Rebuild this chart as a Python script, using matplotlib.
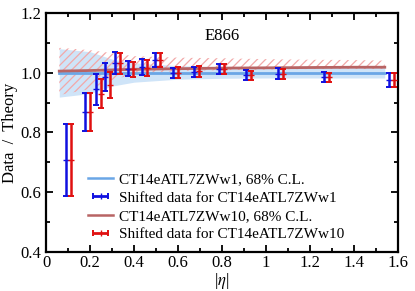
import numpy as np
import matplotlib
matplotlib.use('Agg')
import matplotlib.pyplot as plt
from matplotlib.ticker import MultipleLocator, FormatStrFormatter

plt.rcParams['font.family'] = ['Liberation Serif', 'DejaVu Serif']
plt.rcParams['mathtext.fontset'] = 'stix'

# shifted data points (blue: w1, red: w10)
eta_blue = [0.090, 0.177, 0.227, 0.267, 0.314, 0.374, 0.435, 0.494,
            0.577, 0.674, 0.788, 0.909, 1.053, 1.264, 1.560]
val_blue = [0.707, 0.869, 0.945, 0.986, 1.033, 1.013, 1.018, 1.043,
            0.999, 1.003, 1.012, 0.993, 0.997, 0.984, 0.976]
err_blue = [0.121, 0.063, 0.052, 0.047, 0.036, 0.025, 0.026, 0.023,
            0.018, 0.017, 0.017, 0.017, 0.017, 0.017, 0.024]
eta_red = [0.112, 0.199, 0.249, 0.289, 0.336, 0.396, 0.457, 0.516,
           0.599, 0.696, 0.810, 0.931, 1.075, 1.286, 1.582]
val_red = [0.707, 0.868, 0.929, 0.958, 1.032, 1.011, 1.015, 1.042,
           1.000, 1.004, 1.012, 0.991, 0.996, 0.984, 0.975]
err_red = [0.121, 0.063, 0.048, 0.044, 0.035, 0.025, 0.027, 0.024,
           0.019, 0.018, 0.017, 0.016, 0.016, 0.016, 0.024]

# theory bands
band_eta = [0.06, 0.2, 0.3, 0.4, 0.6, 0.8, 1.0, 1.2, 1.4, 1.54]
w1_lo = [0.918, 0.93, 0.955, 0.968, 0.978, 0.981, 0.982, 0.982, 0.982, 0.982]
w1_hi = [1.08, 1.07, 1.045, 1.033, 1.023, 1.02, 1.018, 1.018, 1.018, 1.018]
w1_mid = [1.0, 1.0, 1.0, 1.0, 1.0, 1.0, 1.0, 1.0, 1.0, 1.0]
w10_lo = [0.925, 0.945, 0.975, 0.995, 1.005, 1.008, 1.01, 1.012, 1.012, 1.012]
w10_hi = [1.083, 1.075, 1.065, 1.055, 1.05, 1.048, 1.045, 1.043, 1.042, 1.04]
w10_mid = [1.005, 1.007, 1.009, 1.011, 1.013, 1.015, 1.016, 1.017, 1.018, 1.018]

blue_band = '#cfe4f8'
blue_line = '#6aa6e6'
red_hatch = '#f2a8a8'
red_line = '#b86464'

fig = plt.figure(figsize=(4.15, 2.91), dpi=100)
ax = fig.add_axes([0.111, 0.134, 0.848, 0.822])

ax.fill_between(band_eta, w1_lo, w1_hi, color=blue_band, lw=0, zorder=1)
plt.rcParams['hatch.linewidth'] = 0.9
plt.rcParams['hatch.color'] = red_hatch
ax.fill_between(band_eta, w10_lo, w10_hi, facecolor='none', edgecolor=red_hatch,
                hatch='////', lw=0, zorder=2)
ax.plot(band_eta, w1_mid, color=blue_line, lw=2, zorder=3)
ax.plot(band_eta, w10_mid, color=red_line, lw=2, zorder=3)

ax.errorbar(eta_blue, val_blue, yerr=err_blue, fmt='_', color='#1010e0',
            ms=4, elinewidth=1.8, capsize=2.5, capthick=1.4, zorder=4)
ax.errorbar(eta_red, val_red, yerr=err_red, fmt='_', color='#e01010',
            ms=4, elinewidth=1.8, capsize=2.5, capthick=1.4, zorder=4)

# legend proxies
h1, = ax.plot([], [], color=blue_line, lw=1.8)
h2 = ax.errorbar([np.nan], [np.nan], xerr=[1], fmt='|', color='#1010e0',
                 ms=4, elinewidth=2, capsize=2.5, capthick=1.4)
h3, = ax.plot([], [], color=red_line, lw=1.8)
h4 = ax.errorbar([np.nan], [np.nan], xerr=[1], fmt='|', color='#e01010',
                 ms=4, elinewidth=2, capsize=2.5, capthick=1.4)
ax.legend([h1, h2, h3, h4],
          ['CT14eATL7ZWw1, 68% C.L.', 'Shifted data for CT14eATL7ZWw1',
           'CT14eATL7ZWw10, 68% C.L.', 'Shifted data for CT14eATL7ZWw10'],
          loc='lower left', bbox_to_anchor=(0.09, 0.0), frameon=False,
          fontsize=11, handlelength=1.6, handletextpad=0.4,
          labelspacing=0.3, borderpad=0.2)

ax.text(0.72, 1.122, 'E866', fontsize=12, ha='left', va='center')

ax.set_xlim(0, 1.6)
ax.set_ylim(0.4, 1.2)
ax.xaxis.set_major_locator(MultipleLocator(0.2))
ax.xaxis.set_minor_locator(MultipleLocator(0.1))
ax.yaxis.set_major_locator(MultipleLocator(0.2))
ax.yaxis.set_minor_locator(MultipleLocator(0.1))
ax.xaxis.set_major_formatter(plt.FuncFormatter(lambda v, p: '%g' % round(v, 2)))
ax.yaxis.set_major_formatter(FormatStrFormatter('%.1f'))
ax.tick_params(which='both', direction='in', top=True, right=True, labelsize=12,
               width=1.3)
ax.tick_params(axis='x', pad=2)
ax.tick_params(which='major', length=5)
ax.tick_params(which='minor', length=3)
for s in ax.spines.values():
    s.set_linewidth(1.6)

ax.set_xlabel(r'|$\eta$|', fontsize=12)
ax.xaxis.set_label_coords(0.5, -0.08)
ax.set_ylabel('Data  /  Theory', fontsize=12)
ax.yaxis.set_label_coords(-0.08, 0.5)

fig.savefig('out.png', dpi=100)
